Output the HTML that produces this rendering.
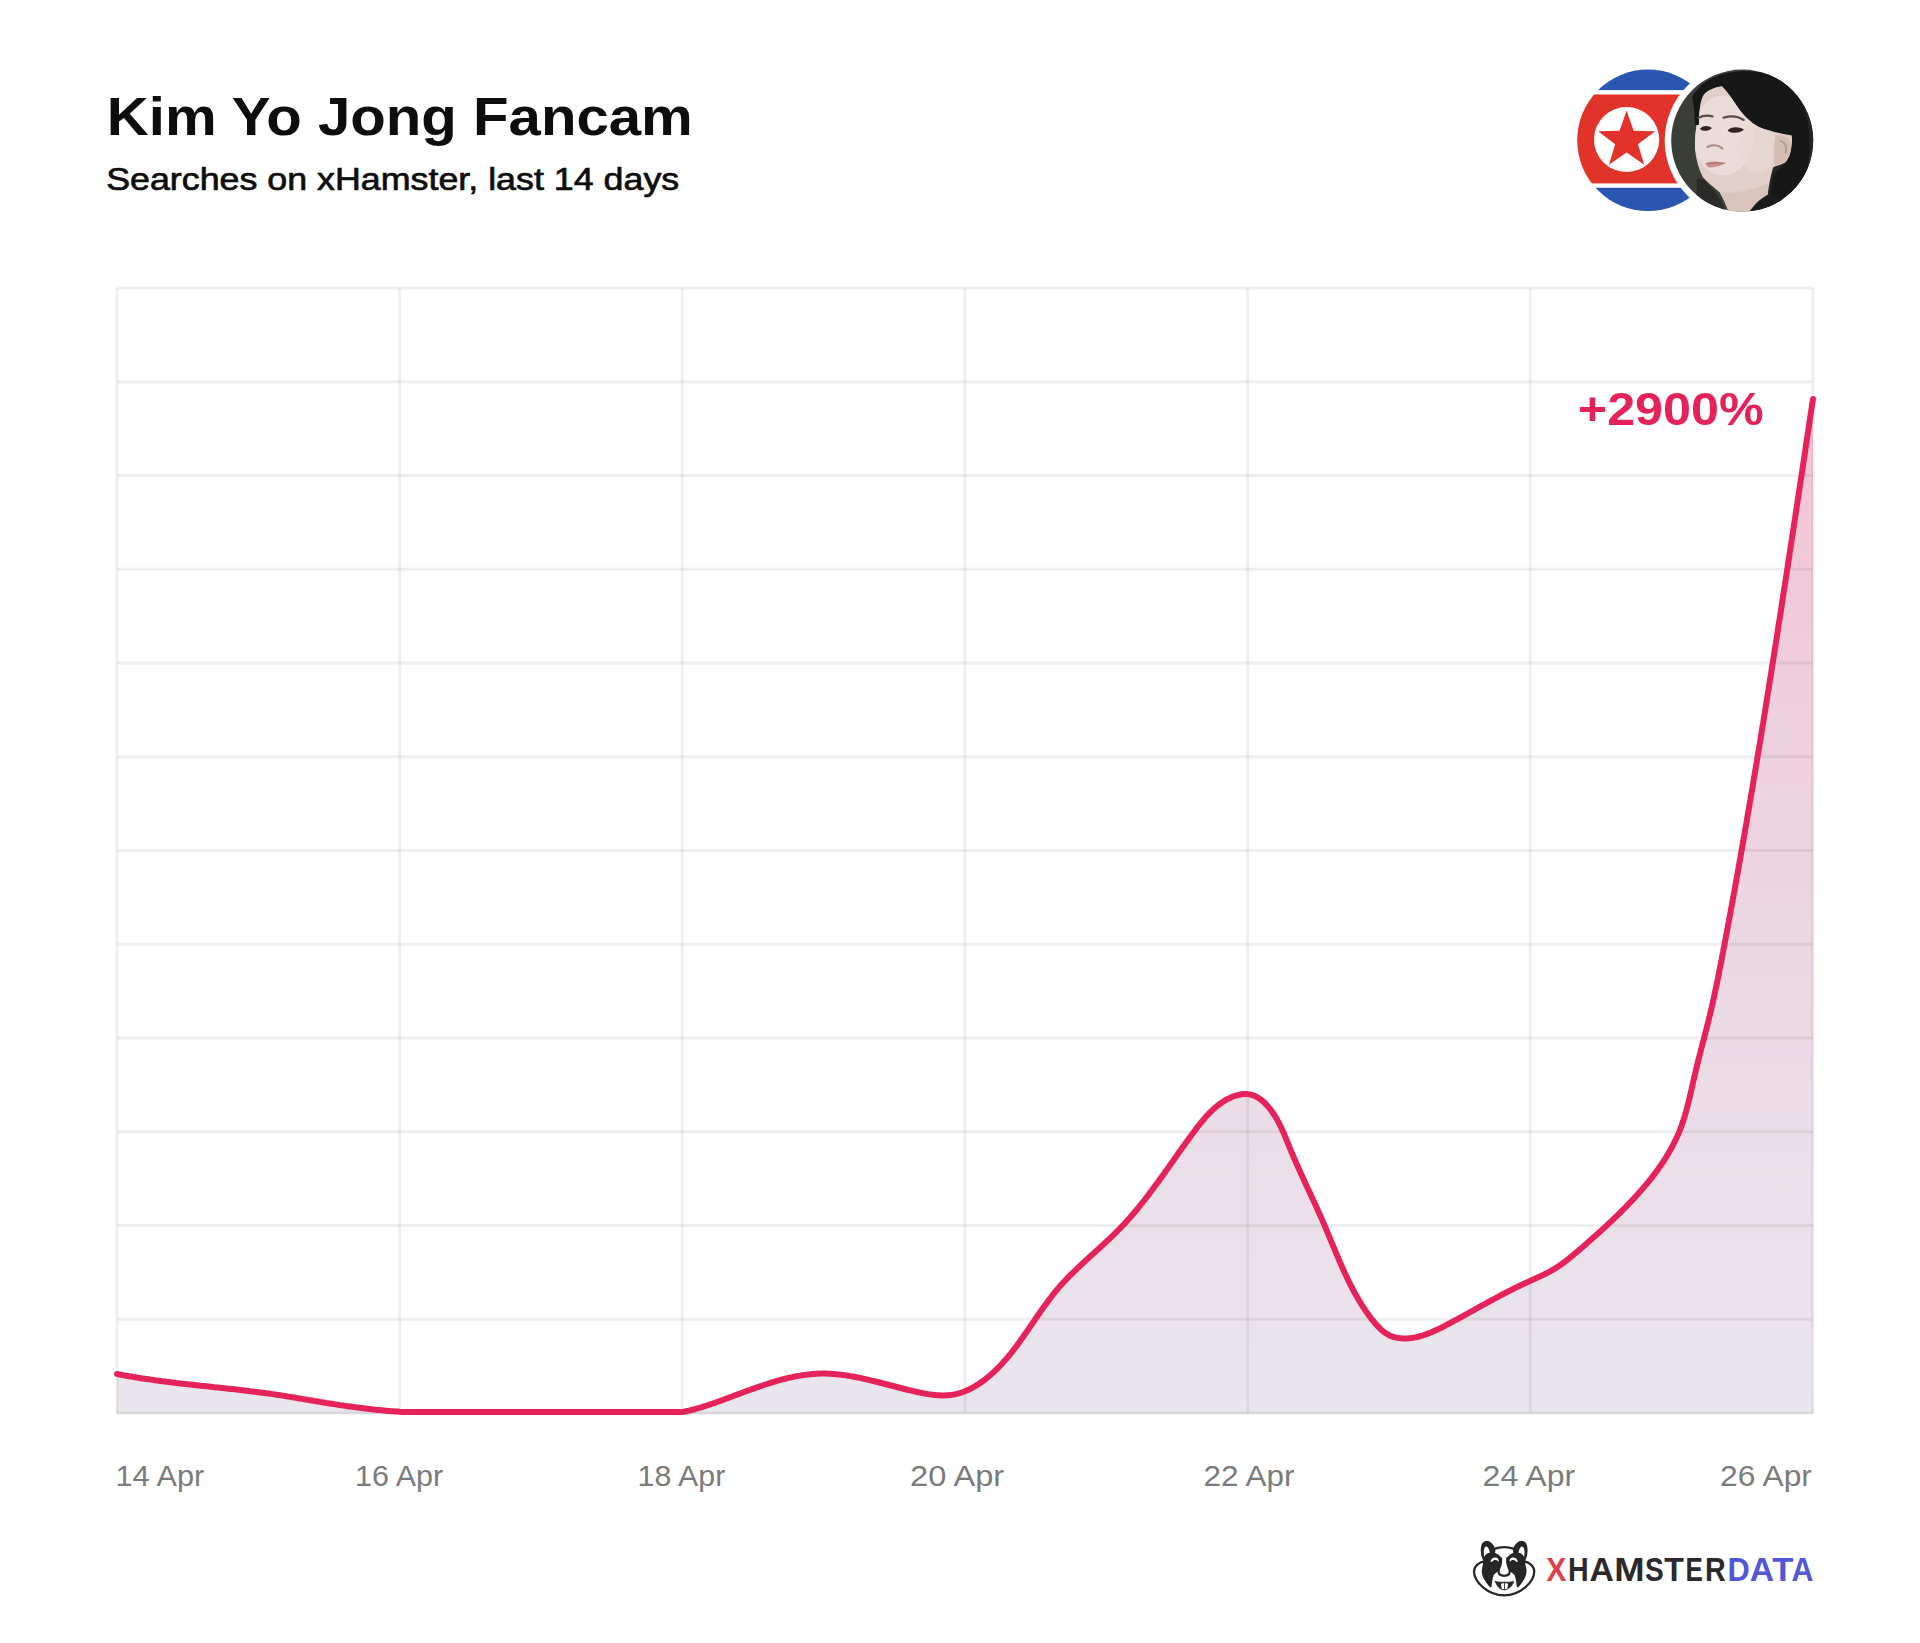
<!DOCTYPE html>
<html><head><meta charset="utf-8"><style>
html,body{margin:0;padding:0;background:#fff;}
body{width:1920px;height:1643px;overflow:hidden;position:relative;}
svg{position:absolute;left:0;top:0;}
text{font-family:"Liberation Sans",sans-serif;}
</style></head><body>
<svg width="1920" height="1643" viewBox="0 0 1920 1643">
<defs>
<linearGradient id="fillg" x1="0" y1="398" x2="0" y2="1413" gradientUnits="userSpaceOnUse">
<stop offset="0" stop-color="#f2c4d5"/>
<stop offset="0.5" stop-color="#ecd6e2"/>
<stop offset="1" stop-color="#eae6ee"/>
</linearGradient>
<clipPath id="pc"><circle cx="1742.2" cy="140.6" r="71"/></clipPath>
<clipPath id="fc"><circle cx="1648" cy="140.3" r="70.8"/></clipPath>
</defs>
<rect width="1920" height="1643" fill="#fff"/>
<text x="106.75" y="135.1" font-size="54" font-weight="700" fill="#0d0d0d" textLength="586.1" lengthAdjust="spacingAndGlyphs">Kim Yo Jong Fancam</text>
<text x="106.18" y="189.6" font-size="32" font-weight="400" fill="#0d0d0d" stroke="#0d0d0d" stroke-width="0.7" textLength="573.0" lengthAdjust="spacingAndGlyphs">Searches on xHamster, last 14 days</text>
<path d="M117.0,1374.0 L119.0,1374.4 L120.9,1374.8 L122.9,1375.1 L124.9,1375.5 L126.9,1375.8 L128.9,1376.2 L130.8,1376.5 L132.8,1376.9 L134.8,1377.2 L136.8,1377.5 L138.8,1377.8 L140.7,1378.2 L142.7,1378.5 L144.7,1378.8 L146.7,1379.1 L148.7,1379.3 L150.7,1379.6 L152.7,1379.9 L154.7,1380.2 L156.7,1380.5 L158.6,1380.7 L160.6,1381.0 L162.6,1381.3 L164.6,1381.5 L166.6,1381.8 L168.6,1382.0 L170.6,1382.3 L172.6,1382.5 L174.6,1382.7 L176.6,1383.0 L178.6,1383.2 L180.6,1383.4 L182.6,1383.7 L184.6,1383.9 L186.6,1384.1 L188.6,1384.4 L190.6,1384.6 L192.6,1384.8 L194.5,1385.0 L196.5,1385.2 L198.5,1385.4 L200.5,1385.7 L202.5,1385.9 L204.5,1386.1 L206.5,1386.3 L208.5,1386.5 L210.5,1386.7 L212.5,1386.9 L214.5,1387.2 L216.5,1387.4 L218.5,1387.6 L220.5,1387.8 L222.5,1388.0 L224.5,1388.2 L226.5,1388.4 L228.5,1388.7 L230.5,1388.9 L232.5,1389.1 L234.5,1389.3 L236.5,1389.5 L238.5,1389.8 L240.5,1390.0 L242.5,1390.2 L244.5,1390.5 L246.5,1390.7 L248.5,1390.9 L250.5,1391.2 L252.5,1391.4 L254.4,1391.7 L256.4,1391.9 L258.4,1392.2 L260.4,1392.5 L262.4,1392.7 L264.4,1393.0 L266.4,1393.3 L268.4,1393.5 L270.4,1393.8 L272.4,1394.1 L274.4,1394.4 L276.3,1394.7 L278.3,1395.0 L280.3,1395.3 L282.3,1395.6 L284.3,1395.9 L286.3,1396.2 L288.2,1396.6 L290.2,1396.9 L292.2,1397.2 L294.2,1397.5 L296.2,1397.9 L298.2,1398.2 L300.1,1398.5 L302.1,1398.9 L304.1,1399.2 L306.1,1399.5 L308.1,1399.9 L310.0,1400.2 L312.0,1400.5 L314.0,1400.9 L316.0,1401.2 L318.0,1401.5 L320.0,1401.9 L321.9,1402.2 L323.9,1402.5 L325.9,1402.9 L327.9,1403.2 L329.9,1403.5 L331.8,1403.8 L333.8,1404.1 L335.8,1404.4 L337.8,1404.7 L339.8,1405.1 L341.8,1405.4 L343.8,1405.6 L345.8,1405.9 L347.7,1406.2 L349.7,1406.5 L351.7,1406.8 L353.7,1407.1 L355.7,1407.3 L357.7,1407.6 L359.7,1407.8 L361.7,1408.1 L363.7,1408.3 L365.7,1408.6 L367.7,1408.8 L369.7,1409.0 L371.7,1409.3 L373.7,1409.5 L375.6,1409.7 L377.6,1409.9 L379.6,1410.1 L381.6,1410.3 L383.6,1410.5 L385.6,1410.7 L387.6,1410.9 L389.6,1411.0 L391.7,1411.2 L393.7,1411.3 L395.7,1411.5 L397.7,1411.6 L399.7,1411.8 L401.7,1411.9 L681.9,1412.1 L683.9,1411.7 L685.8,1411.3 L687.8,1410.9 L689.7,1410.5 L691.7,1410.0 L693.6,1409.5 L695.5,1409.0 L697.5,1408.4 L699.4,1407.9 L701.3,1407.3 L703.2,1406.7 L705.1,1406.1 L707.0,1405.5 L708.9,1404.8 L710.8,1404.2 L712.7,1403.5 L714.6,1402.9 L716.5,1402.2 L718.4,1401.5 L720.2,1400.9 L722.1,1400.2 L724.0,1399.5 L725.9,1398.8 L727.8,1398.1 L729.6,1397.4 L731.5,1396.7 L733.4,1396.0 L735.3,1395.3 L737.1,1394.6 L739.0,1393.9 L740.9,1393.2 L742.8,1392.5 L744.6,1391.8 L746.5,1391.1 L748.4,1390.4 L750.3,1389.8 L752.2,1389.1 L754.0,1388.4 L755.9,1387.7 L757.8,1387.1 L759.7,1386.4 L761.6,1385.8 L763.5,1385.1 L765.4,1384.5 L767.3,1383.9 L769.2,1383.3 L771.1,1382.7 L773.0,1382.1 L774.9,1381.5 L776.9,1381.0 L778.8,1380.4 L780.7,1379.9 L782.7,1379.4 L784.6,1378.9 L786.5,1378.4 L788.5,1377.9 L790.4,1377.5 L792.4,1377.1 L794.3,1376.6 L796.3,1376.3 L798.3,1375.9 L800.2,1375.6 L802.2,1375.2 L804.2,1374.9 L806.2,1374.7 L808.2,1374.4 L810.2,1374.2 L812.2,1374.0 L814.1,1373.9 L816.1,1373.8 L818.1,1373.7 L820.1,1373.6 L822.1,1373.6 L824.1,1373.6 L826.1,1373.6 L828.1,1373.7 L830.1,1373.8 L832.1,1373.9 L834.1,1374.0 L836.1,1374.2 L838.1,1374.4 L840.1,1374.6 L842.1,1374.9 L844.1,1375.1 L846.1,1375.4 L848.0,1375.7 L850.0,1376.1 L852.0,1376.4 L854.0,1376.8 L855.9,1377.1 L857.9,1377.5 L859.8,1377.9 L861.8,1378.3 L863.8,1378.8 L865.7,1379.2 L867.7,1379.6 L869.6,1380.1 L871.6,1380.6 L873.5,1381.0 L875.4,1381.5 L877.4,1382.0 L879.3,1382.5 L881.3,1383.0 L883.2,1383.5 L885.1,1384.0 L887.1,1384.5 L889.0,1385.0 L890.9,1385.5 L892.9,1386.0 L894.8,1386.5 L896.8,1387.0 L898.7,1387.5 L900.6,1388.0 L902.6,1388.5 L904.5,1389.0 L906.5,1389.5 L908.4,1390.0 L910.3,1390.4 L912.3,1390.9 L914.2,1391.3 L916.2,1391.8 L918.1,1392.2 L920.1,1392.6 L922.1,1393.0 L924.0,1393.4 L926.0,1393.7 L928.0,1394.1 L930.0,1394.4 L931.9,1394.6 L933.9,1394.9 L935.9,1395.1 L937.9,1395.2 L939.9,1395.3 L941.9,1395.4 L943.9,1395.4 L945.9,1395.3 L947.9,1395.2 L949.9,1395.0 L951.9,1394.8 L953.9,1394.5 L955.8,1394.1 L957.8,1393.6 L959.7,1393.1 L961.6,1392.5 L963.5,1391.8 L965.4,1391.1 L967.2,1390.3 L969.0,1389.5 L970.8,1388.6 L972.6,1387.6 L974.3,1386.7 L976.0,1385.6 L977.7,1384.6 L979.4,1383.5 L981.1,1382.3 L982.7,1381.2 L984.3,1380.0 L985.9,1378.8 L987.4,1377.5 L989.0,1376.2 L990.5,1374.9 L992.0,1373.6 L993.5,1372.3 L994.9,1370.9 L996.4,1369.5 L997.8,1368.1 L999.2,1366.7 L1000.6,1365.2 L1002.0,1363.8 L1003.3,1362.3 L1004.6,1360.8 L1006.0,1359.3 L1007.3,1357.8 L1008.5,1356.2 L1009.8,1354.7 L1011.1,1353.1 L1012.3,1351.6 L1013.5,1350.0 L1014.8,1348.4 L1016.0,1346.8 L1017.2,1345.2 L1018.3,1343.6 L1019.5,1342.0 L1020.7,1340.3 L1021.8,1338.7 L1023.0,1337.1 L1024.1,1335.4 L1025.3,1333.8 L1026.4,1332.1 L1027.6,1330.5 L1028.7,1328.8 L1029.8,1327.2 L1030.9,1325.5 L1032.1,1323.9 L1033.2,1322.2 L1034.3,1320.6 L1035.4,1318.9 L1036.6,1317.3 L1037.7,1315.6 L1038.8,1314.0 L1040.0,1312.3 L1041.1,1310.7 L1042.3,1309.1 L1043.4,1307.4 L1044.6,1305.8 L1045.8,1304.2 L1047.0,1302.6 L1048.1,1301.0 L1049.3,1299.4 L1050.6,1297.8 L1051.8,1296.2 L1053.0,1294.6 L1054.3,1293.0 L1055.5,1291.5 L1056.8,1290.0 L1058.1,1288.4 L1059.4,1286.9 L1060.7,1285.4 L1062.1,1283.9 L1063.4,1282.4 L1064.8,1281.0 L1066.2,1279.5 L1067.5,1278.1 L1068.9,1276.6 L1070.3,1275.2 L1071.8,1273.8 L1073.2,1272.4 L1074.6,1271.0 L1076.1,1269.6 L1077.5,1268.2 L1078.9,1266.8 L1080.4,1265.5 L1081.9,1264.1 L1083.3,1262.7 L1084.8,1261.4 L1086.3,1260.0 L1087.8,1258.7 L1089.2,1257.3 L1090.7,1256.0 L1092.2,1254.6 L1093.7,1253.3 L1095.2,1251.9 L1096.6,1250.6 L1098.1,1249.3 L1099.6,1247.9 L1101.1,1246.6 L1102.5,1245.2 L1104.0,1243.9 L1105.5,1242.5 L1106.9,1241.1 L1108.4,1239.8 L1109.9,1238.4 L1111.3,1237.0 L1112.7,1235.6 L1114.2,1234.2 L1115.6,1232.8 L1117.0,1231.4 L1118.4,1230.0 L1119.8,1228.6 L1121.2,1227.1 L1122.6,1225.7 L1124.0,1224.2 L1125.3,1222.7 L1126.7,1221.3 L1128.0,1219.8 L1129.4,1218.3 L1130.7,1216.8 L1132.0,1215.3 L1133.3,1213.7 L1134.6,1212.2 L1135.9,1210.7 L1137.1,1209.1 L1138.4,1207.6 L1139.7,1206.0 L1140.9,1204.5 L1142.2,1202.9 L1143.4,1201.4 L1144.7,1199.8 L1145.9,1198.2 L1147.1,1196.6 L1148.3,1195.0 L1149.5,1193.4 L1150.7,1191.8 L1151.9,1190.2 L1153.1,1188.6 L1154.3,1187.0 L1155.5,1185.4 L1156.7,1183.8 L1157.9,1182.2 L1159.1,1180.6 L1160.2,1178.9 L1161.4,1177.3 L1162.6,1175.7 L1163.7,1174.1 L1164.9,1172.4 L1166.0,1170.8 L1167.2,1169.2 L1168.4,1167.5 L1169.5,1165.9 L1170.7,1164.3 L1171.8,1162.6 L1173.0,1161.0 L1174.1,1159.4 L1175.3,1157.7 L1176.4,1156.1 L1177.6,1154.5 L1178.7,1152.8 L1179.9,1151.2 L1181.1,1149.6 L1182.2,1147.9 L1183.4,1146.3 L1184.5,1144.7 L1185.7,1143.0 L1186.9,1141.4 L1188.1,1139.8 L1189.2,1138.2 L1190.4,1136.6 L1191.6,1135.0 L1192.8,1133.3 L1194.0,1131.7 L1195.2,1130.1 L1196.4,1128.5 L1197.6,1126.9 L1198.8,1125.4 L1200.1,1123.8 L1201.3,1122.2 L1202.6,1120.7 L1203.9,1119.2 L1205.2,1117.6 L1206.5,1116.1 L1207.9,1114.7 L1209.2,1113.2 L1210.7,1111.8 L1212.1,1110.4 L1213.6,1109.1 L1215.1,1107.7 L1216.6,1106.4 L1218.2,1105.2 L1219.8,1104.0 L1221.4,1102.8 L1223.1,1101.7 L1224.8,1100.7 L1226.5,1099.7 L1228.3,1098.7 L1230.1,1097.9 L1231.9,1097.1 L1233.7,1096.3 L1235.6,1095.7 L1237.6,1095.1 L1239.5,1094.7 L1241.5,1094.3 L1243.5,1094.1 L1245.5,1094.0 L1247.5,1094.1 L1249.5,1094.4 L1251.4,1094.8 L1253.3,1095.4 L1255.2,1096.1 L1256.9,1097.1 L1258.7,1098.1 L1260.3,1099.2 L1261.9,1100.5 L1263.4,1101.8 L1264.9,1103.1 L1266.3,1104.6 L1267.6,1106.0 L1268.9,1107.6 L1270.2,1109.1 L1271.4,1110.7 L1272.5,1112.3 L1273.6,1114.0 L1274.7,1115.7 L1275.8,1117.4 L1276.8,1119.1 L1277.8,1120.9 L1278.7,1122.6 L1279.6,1124.4 L1280.5,1126.2 L1281.4,1128.0 L1282.2,1129.8 L1283.1,1131.6 L1283.9,1133.5 L1284.6,1135.3 L1285.4,1137.2 L1286.2,1139.0 L1286.9,1140.9 L1287.7,1142.7 L1288.5,1144.6 L1289.2,1146.4 L1290.0,1148.3 L1290.7,1150.1 L1291.5,1152.0 L1292.3,1153.8 L1293.0,1155.7 L1293.8,1157.5 L1294.6,1159.3 L1295.4,1161.2 L1296.2,1163.0 L1297.0,1164.8 L1297.8,1166.7 L1298.7,1168.5 L1299.5,1170.3 L1300.3,1172.1 L1301.1,1174.0 L1302.0,1175.8 L1302.8,1177.6 L1303.6,1179.4 L1304.5,1181.2 L1305.3,1183.1 L1306.1,1184.9 L1307.0,1186.7 L1307.8,1188.5 L1308.7,1190.3 L1309.5,1192.1 L1310.4,1193.9 L1311.2,1195.8 L1312.0,1197.6 L1312.9,1199.4 L1313.7,1201.2 L1314.6,1203.0 L1315.4,1204.8 L1316.2,1206.7 L1317.1,1208.5 L1317.9,1210.3 L1318.7,1212.1 L1319.5,1214.0 L1320.3,1215.8 L1321.2,1217.6 L1322.0,1219.4 L1322.8,1221.3 L1323.6,1223.1 L1324.4,1224.9 L1325.1,1226.8 L1325.9,1228.6 L1326.7,1230.5 L1327.5,1232.3 L1328.2,1234.2 L1329.0,1236.0 L1329.8,1237.9 L1330.5,1239.7 L1331.3,1241.6 L1332.1,1243.4 L1332.8,1245.3 L1333.6,1247.1 L1334.4,1248.9 L1335.1,1250.8 L1335.9,1252.6 L1336.7,1254.5 L1337.5,1256.3 L1338.3,1258.2 L1339.0,1260.0 L1339.8,1261.8 L1340.6,1263.7 L1341.4,1265.5 L1342.2,1267.3 L1343.1,1269.2 L1343.9,1271.0 L1344.7,1272.8 L1345.6,1274.6 L1346.4,1276.4 L1347.3,1278.3 L1348.1,1280.1 L1349.0,1281.9 L1349.9,1283.6 L1350.8,1285.4 L1351.7,1287.2 L1352.6,1289.0 L1353.6,1290.8 L1354.5,1292.5 L1355.5,1294.3 L1356.5,1296.0 L1357.5,1297.7 L1358.5,1299.5 L1359.5,1301.2 L1360.6,1302.9 L1361.6,1304.6 L1362.7,1306.3 L1363.8,1308.0 L1364.9,1309.6 L1366.0,1311.3 L1367.2,1312.9 L1368.3,1314.5 L1369.5,1316.2 L1370.7,1317.8 L1371.9,1319.3 L1373.2,1320.9 L1374.4,1322.5 L1375.7,1324.0 L1377.1,1325.5 L1378.4,1326.9 L1379.9,1328.4 L1381.3,1329.7 L1382.8,1331.0 L1384.4,1332.3 L1386.1,1333.4 L1387.8,1334.4 L1389.5,1335.4 L1391.4,1336.2 L1393.3,1336.8 L1395.2,1337.4 L1397.1,1337.8 L1399.1,1338.1 L1401.1,1338.3 L1403.1,1338.4 L1405.1,1338.4 L1407.1,1338.4 L1409.1,1338.2 L1411.1,1338.0 L1413.1,1337.7 L1415.0,1337.4 L1417.0,1337.0 L1418.9,1336.5 L1420.9,1336.0 L1422.8,1335.4 L1424.7,1334.8 L1426.6,1334.1 L1428.4,1333.4 L1430.3,1332.7 L1432.2,1331.9 L1434.0,1331.1 L1435.8,1330.3 L1437.6,1329.4 L1439.4,1328.6 L1441.2,1327.7 L1443.0,1326.8 L1444.8,1325.8 L1446.6,1324.9 L1448.3,1324.0 L1450.1,1323.1 L1451.9,1322.1 L1453.6,1321.2 L1455.4,1320.2 L1457.1,1319.3 L1458.9,1318.3 L1460.7,1317.3 L1462.4,1316.4 L1464.2,1315.4 L1465.9,1314.5 L1467.7,1313.5 L1469.4,1312.5 L1471.2,1311.6 L1472.9,1310.6 L1474.7,1309.6 L1476.4,1308.7 L1478.2,1307.7 L1479.9,1306.7 L1481.7,1305.7 L1483.4,1304.8 L1485.2,1303.8 L1486.9,1302.8 L1488.7,1301.9 L1490.5,1300.9 L1492.2,1300.0 L1494.0,1299.0 L1495.7,1298.1 L1497.5,1297.1 L1499.3,1296.2 L1501.0,1295.2 L1502.8,1294.3 L1504.6,1293.4 L1506.3,1292.5 L1508.1,1291.5 L1509.9,1290.6 L1511.7,1289.7 L1513.5,1288.8 L1515.3,1287.9 L1517.1,1287.0 L1518.9,1286.2 L1520.7,1285.3 L1522.5,1284.4 L1524.3,1283.6 L1526.1,1282.7 L1527.9,1281.9 L1529.7,1281.1 L1531.5,1280.2 L1533.4,1279.4 L1535.2,1278.6 L1537.0,1277.8 L1538.8,1276.9 L1540.7,1276.1 L1542.5,1275.3 L1544.3,1274.4 L1546.1,1273.5 L1547.9,1272.6 L1549.6,1271.7 L1551.4,1270.7 L1553.1,1269.7 L1554.8,1268.6 L1556.5,1267.6 L1558.2,1266.5 L1559.8,1265.3 L1561.5,1264.2 L1563.1,1263.0 L1564.7,1261.8 L1566.3,1260.6 L1567.9,1259.4 L1569.4,1258.1 L1571.0,1256.9 L1572.5,1255.6 L1574.1,1254.3 L1575.6,1253.0 L1577.1,1251.7 L1578.6,1250.4 L1580.2,1249.1 L1581.7,1247.8 L1583.2,1246.5 L1584.7,1245.2 L1586.2,1243.9 L1587.7,1242.6 L1589.2,1241.3 L1590.7,1239.9 L1592.2,1238.6 L1593.7,1237.3 L1595.2,1236.0 L1596.7,1234.6 L1598.2,1233.3 L1599.7,1232.0 L1601.2,1230.6 L1602.6,1229.3 L1604.1,1227.9 L1605.6,1226.5 L1607.1,1225.2 L1608.5,1223.8 L1610.0,1222.4 L1611.4,1221.1 L1612.9,1219.7 L1614.3,1218.3 L1615.8,1216.9 L1617.2,1215.5 L1618.6,1214.1 L1620.1,1212.7 L1621.5,1211.3 L1622.9,1209.9 L1624.3,1208.5 L1625.7,1207.1 L1627.1,1205.6 L1628.5,1204.2 L1629.9,1202.7 L1631.3,1201.3 L1632.6,1199.8 L1634.0,1198.4 L1635.4,1196.9 L1636.7,1195.4 L1638.0,1193.9 L1639.4,1192.4 L1640.7,1190.9 L1642.0,1189.4 L1643.3,1187.9 L1644.6,1186.4 L1645.9,1184.9 L1647.2,1183.3 L1648.5,1181.8 L1649.7,1180.2 L1651.0,1178.7 L1652.2,1177.1 L1653.4,1175.5 L1654.6,1173.9 L1655.8,1172.3 L1657.0,1170.7 L1658.2,1169.1 L1659.3,1167.4 L1660.5,1165.8 L1661.6,1164.1 L1662.7,1162.5 L1663.8,1160.8 L1664.9,1159.1 L1666.0,1157.4 L1667.0,1155.7 L1668.0,1154.0 L1669.0,1152.3 L1670.0,1150.5 L1671.0,1148.8 L1672.0,1147.0 L1672.9,1145.3 L1673.8,1143.5 L1674.7,1141.7 L1675.6,1139.9 L1676.4,1138.1 L1677.3,1136.3 L1678.1,1134.4 L1678.9,1132.6 L1679.6,1130.7 L1680.4,1128.9 L1681.1,1127.0 L1681.8,1125.1 L1682.4,1123.2 L1683.1,1121.3 L1683.7,1119.4 L1684.3,1117.5 L1684.9,1115.6 L1685.4,1113.7 L1686.0,1111.8 L1686.5,1109.8 L1687.0,1107.9 L1687.6,1106.0 L1688.0,1104.0 L1688.5,1102.1 L1689.0,1100.2 L1689.5,1098.2 L1689.9,1096.3 L1690.4,1094.3 L1690.8,1092.4 L1691.3,1090.4 L1691.7,1088.5 L1692.2,1086.5 L1692.6,1084.6 L1693.0,1082.6 L1693.5,1080.7 L1693.9,1078.7 L1694.4,1076.8 L1694.8,1074.8 L1695.3,1072.9 L1695.7,1070.9 L1696.2,1069.0 L1696.7,1067.0 L1697.2,1065.1 L1697.6,1063.1 L1698.1,1061.2 L1698.6,1059.2 L1699.1,1057.3 L1699.6,1055.4 L1700.1,1053.4 L1700.6,1051.5 L1701.1,1049.6 L1701.6,1047.6 L1702.1,1045.7 L1702.6,1043.7 L1703.1,1041.8 L1703.6,1039.9 L1704.1,1037.9 L1704.6,1036.0 L1705.1,1034.1 L1705.6,1032.1 L1706.1,1030.2 L1706.6,1028.3 L1707.1,1026.3 L1707.6,1024.4 L1708.1,1022.4 L1708.6,1020.5 L1709.0,1018.5 L1709.5,1016.6 L1710.0,1014.7 L1710.4,1012.7 L1710.9,1010.8 L1711.3,1008.8 L1711.8,1006.9 L1712.2,1004.9 L1712.7,1003.0 L1713.1,1001.0 L1713.5,999.0 L1714.0,997.1 L1714.4,995.1 L1714.8,993.2 L1715.2,991.2 L1715.6,989.3 L1716.1,987.3 L1716.5,985.3 L1716.9,983.4 L1717.3,981.4 L1717.7,979.5 L1718.1,977.5 L1718.5,975.5 L1718.9,973.6 L1719.2,971.6 L1719.6,969.7 L1720.0,967.7 L1720.4,965.7 L1720.8,963.8 L1721.2,961.8 L1721.6,959.8 L1721.9,957.9 L1722.3,955.9 L1722.7,953.9 L1723.1,952.0 L1723.4,950.0 L1723.8,948.0 L1724.2,946.1 L1724.6,944.1 L1724.9,942.1 L1725.3,940.2 L1725.7,938.2 L1726.0,936.2 L1726.4,934.3 L1726.8,932.3 L1727.1,930.3 L1727.5,928.4 L1727.9,926.4 L1728.2,924.4 L1728.6,922.5 L1729.0,920.5 L1729.3,918.5 L1729.7,916.6 L1730.1,914.6 L1730.4,912.6 L1730.8,910.7 L1731.1,908.7 L1731.5,906.7 L1731.9,904.8 L1732.2,902.8 L1732.6,900.8 L1732.9,898.9 L1733.3,896.9 L1733.7,894.9 L1734.0,893.0 L1734.4,891.0 L1734.7,889.0 L1735.1,887.0 L1735.4,885.1 L1735.8,883.1 L1736.2,881.1 L1736.5,879.2 L1736.9,877.2 L1737.2,875.2 L1737.6,873.3 L1737.9,871.3 L1738.3,869.3 L1738.6,867.4 L1739.0,865.4 L1739.3,863.4 L1739.7,861.4 L1740.0,859.5 L1740.4,857.5 L1740.7,855.5 L1741.1,853.6 L1741.4,851.6 L1741.8,849.6 L1742.1,847.6 L1742.4,845.7 L1742.8,843.7 L1743.1,841.7 L1743.5,839.8 L1743.8,837.8 L1744.2,835.8 L1744.5,833.8 L1744.9,831.9 L1745.2,829.9 L1745.5,827.9 L1745.9,826.0 L1746.2,824.0 L1746.6,822.0 L1746.9,820.0 L1747.2,818.1 L1747.6,816.1 L1747.9,814.1 L1748.2,812.2 L1748.6,810.2 L1748.9,808.2 L1749.3,806.2 L1749.6,804.3 L1749.9,802.3 L1750.3,800.3 L1750.6,798.4 L1750.9,796.4 L1751.3,794.4 L1751.6,792.4 L1751.9,790.5 L1752.3,788.5 L1752.6,786.5 L1752.9,784.5 L1753.3,782.6 L1753.6,780.6 L1753.9,778.6 L1754.3,776.6 L1754.6,774.7 L1754.9,772.7 L1755.3,770.7 L1755.6,768.8 L1755.9,766.8 L1756.2,764.8 L1756.6,762.8 L1756.9,760.9 L1757.2,758.9 L1757.5,756.9 L1757.9,754.9 L1758.2,753.0 L1758.5,751.0 L1758.9,749.0 L1759.2,747.0 L1759.5,745.1 L1759.8,743.1 L1760.2,741.1 L1760.5,739.1 L1760.8,737.2 L1761.1,735.2 L1761.4,733.2 L1761.8,731.2 L1762.1,729.3 L1762.4,727.3 L1762.7,725.3 L1763.1,723.3 L1763.4,721.4 L1763.7,719.4 L1764.0,717.4 L1764.3,715.4 L1764.7,713.5 L1765.0,711.5 L1765.3,709.5 L1765.6,707.5 L1765.9,705.6 L1766.2,703.6 L1766.6,701.6 L1766.9,699.6 L1767.2,697.7 L1767.5,695.7 L1767.8,693.7 L1768.1,691.7 L1768.5,689.8 L1768.8,687.8 L1769.1,685.8 L1769.4,683.8 L1769.7,681.9 L1770.0,679.9 L1770.4,677.9 L1770.7,675.9 L1771.0,673.9 L1771.3,672.0 L1771.6,670.0 L1771.9,668.0 L1772.2,666.0 L1772.5,664.1 L1772.9,662.1 L1773.2,660.1 L1773.5,658.1 L1773.8,656.2 L1774.1,654.2 L1774.4,652.2 L1774.7,650.2 L1775.0,648.3 L1775.3,646.3 L1775.7,644.3 L1776.0,642.3 L1776.3,640.3 L1776.6,638.4 L1776.9,636.4 L1777.2,634.4 L1777.5,632.4 L1777.8,630.5 L1778.1,628.5 L1778.4,626.5 L1778.7,624.5 L1779.0,622.5 L1779.4,620.6 L1779.7,618.6 L1780.0,616.6 L1780.3,614.6 L1780.6,612.7 L1780.9,610.7 L1781.2,608.7 L1781.5,606.7 L1781.8,604.8 L1782.1,602.8 L1782.4,600.8 L1782.7,598.8 L1783.0,596.8 L1783.3,594.9 L1783.6,592.9 L1783.9,590.9 L1784.2,588.9 L1784.5,587.0 L1784.9,585.0 L1785.2,583.0 L1785.5,581.0 L1785.8,579.0 L1786.1,577.1 L1786.4,575.1 L1786.7,573.1 L1787.0,571.1 L1787.3,569.2 L1787.6,567.2 L1787.9,565.2 L1788.2,563.2 L1788.5,561.2 L1788.8,559.3 L1789.1,557.3 L1789.4,555.3 L1789.7,553.3 L1790.0,551.4 L1790.3,549.4 L1790.6,547.4 L1790.9,545.4 L1791.2,543.4 L1791.5,541.5 L1791.8,539.5 L1792.1,537.5 L1792.4,535.5 L1792.7,533.5 L1793.0,531.6 L1793.3,529.6 L1793.6,527.6 L1793.9,525.6 L1794.2,523.7 L1794.5,521.7 L1794.8,519.7 L1795.1,517.7 L1795.4,515.7 L1795.7,513.8 L1796.0,511.8 L1796.3,509.8 L1796.6,507.8 L1796.9,505.8 L1797.2,503.9 L1797.5,501.9 L1797.8,499.9 L1798.1,497.9 L1798.4,496.0 L1798.7,494.0 L1799.0,492.0 L1799.3,490.0 L1799.6,488.0 L1799.9,486.1 L1800.2,484.1 L1800.5,482.1 L1800.8,480.1 L1801.1,478.1 L1801.4,476.2 L1801.7,474.2 L1802.0,472.2 L1802.3,470.2 L1802.6,468.3 L1802.9,466.3 L1803.2,464.3 L1803.5,462.3 L1803.8,460.3 L1804.1,458.4 L1804.4,456.4 L1804.7,454.4 L1805.0,452.4 L1805.3,450.4 L1805.5,448.5 L1805.8,446.5 L1806.1,444.5 L1806.4,442.5 L1806.7,440.6 L1807.0,438.6 L1807.3,436.6 L1807.6,434.6 L1807.9,432.6 L1808.2,430.7 L1808.5,428.7 L1808.8,426.7 L1809.1,424.7 L1809.4,422.7 L1809.7,420.8 L1810.0,418.8 L1810.3,416.8 L1810.6,414.8 L1810.9,412.9 L1811.2,410.9 L1811.5,408.9 L1811.8,406.9 L1812.1,404.9 L1812.4,403.0 L1812.7,401.0 L1813.0,399.0 L1813,1414 L116.5,1414 Z" fill="url(#fillg)"/>
<g stroke="#000" stroke-opacity="0.062" stroke-width="3" fill="none"><line x1="117" y1="288.0" x2="1813" y2="288.0"/><line x1="117" y1="381.8" x2="1813" y2="381.8"/><line x1="117" y1="475.5" x2="1813" y2="475.5"/><line x1="117" y1="569.2" x2="1813" y2="569.2"/><line x1="117" y1="663.0" x2="1813" y2="663.0"/><line x1="117" y1="756.8" x2="1813" y2="756.8"/><line x1="117" y1="850.5" x2="1813" y2="850.5"/><line x1="117" y1="944.2" x2="1813" y2="944.2"/><line x1="117" y1="1038.0" x2="1813" y2="1038.0"/><line x1="117" y1="1131.8" x2="1813" y2="1131.8"/><line x1="117" y1="1225.5" x2="1813" y2="1225.5"/><line x1="117" y1="1319.2" x2="1813" y2="1319.2"/><line x1="117" y1="1413.0" x2="1813" y2="1413.0"/><line x1="117.0" y1="288" x2="117.0" y2="1413"/><line x1="399.7" y1="288" x2="399.7" y2="1413"/><line x1="682.3" y1="288" x2="682.3" y2="1413"/><line x1="965.0" y1="288" x2="965.0" y2="1413"/><line x1="1247.7" y1="288" x2="1247.7" y2="1413"/><line x1="1530.3" y1="288" x2="1530.3" y2="1413"/><line x1="1813.0" y1="288" x2="1813.0" y2="1413"/></g>
<path d="M117.0,1374.0 L119.0,1374.4 L120.9,1374.8 L122.9,1375.1 L124.9,1375.5 L126.9,1375.8 L128.9,1376.2 L130.8,1376.5 L132.8,1376.9 L134.8,1377.2 L136.8,1377.5 L138.8,1377.8 L140.7,1378.2 L142.7,1378.5 L144.7,1378.8 L146.7,1379.1 L148.7,1379.3 L150.7,1379.6 L152.7,1379.9 L154.7,1380.2 L156.7,1380.5 L158.6,1380.7 L160.6,1381.0 L162.6,1381.3 L164.6,1381.5 L166.6,1381.8 L168.6,1382.0 L170.6,1382.3 L172.6,1382.5 L174.6,1382.7 L176.6,1383.0 L178.6,1383.2 L180.6,1383.4 L182.6,1383.7 L184.6,1383.9 L186.6,1384.1 L188.6,1384.4 L190.6,1384.6 L192.6,1384.8 L194.5,1385.0 L196.5,1385.2 L198.5,1385.4 L200.5,1385.7 L202.5,1385.9 L204.5,1386.1 L206.5,1386.3 L208.5,1386.5 L210.5,1386.7 L212.5,1386.9 L214.5,1387.2 L216.5,1387.4 L218.5,1387.6 L220.5,1387.8 L222.5,1388.0 L224.5,1388.2 L226.5,1388.4 L228.5,1388.7 L230.5,1388.9 L232.5,1389.1 L234.5,1389.3 L236.5,1389.5 L238.5,1389.8 L240.5,1390.0 L242.5,1390.2 L244.5,1390.5 L246.5,1390.7 L248.5,1390.9 L250.5,1391.2 L252.5,1391.4 L254.4,1391.7 L256.4,1391.9 L258.4,1392.2 L260.4,1392.5 L262.4,1392.7 L264.4,1393.0 L266.4,1393.3 L268.4,1393.5 L270.4,1393.8 L272.4,1394.1 L274.4,1394.4 L276.3,1394.7 L278.3,1395.0 L280.3,1395.3 L282.3,1395.6 L284.3,1395.9 L286.3,1396.2 L288.2,1396.6 L290.2,1396.9 L292.2,1397.2 L294.2,1397.5 L296.2,1397.9 L298.2,1398.2 L300.1,1398.5 L302.1,1398.9 L304.1,1399.2 L306.1,1399.5 L308.1,1399.9 L310.0,1400.2 L312.0,1400.5 L314.0,1400.9 L316.0,1401.2 L318.0,1401.5 L320.0,1401.9 L321.9,1402.2 L323.9,1402.5 L325.9,1402.9 L327.9,1403.2 L329.9,1403.5 L331.8,1403.8 L333.8,1404.1 L335.8,1404.4 L337.8,1404.7 L339.8,1405.1 L341.8,1405.4 L343.8,1405.6 L345.8,1405.9 L347.7,1406.2 L349.7,1406.5 L351.7,1406.8 L353.7,1407.1 L355.7,1407.3 L357.7,1407.6 L359.7,1407.8 L361.7,1408.1 L363.7,1408.3 L365.7,1408.6 L367.7,1408.8 L369.7,1409.0 L371.7,1409.3 L373.7,1409.5 L375.6,1409.7 L377.6,1409.9 L379.6,1410.1 L381.6,1410.3 L383.6,1410.5 L385.6,1410.7 L387.6,1410.9 L389.6,1411.0 L391.7,1411.2 L393.7,1411.3 L395.7,1411.5 L397.7,1411.6 L399.7,1411.8 L401.7,1411.9 L681.9,1412.1 L683.9,1411.7 L685.8,1411.3 L687.8,1410.9 L689.7,1410.5 L691.7,1410.0 L693.6,1409.5 L695.5,1409.0 L697.5,1408.4 L699.4,1407.9 L701.3,1407.3 L703.2,1406.7 L705.1,1406.1 L707.0,1405.5 L708.9,1404.8 L710.8,1404.2 L712.7,1403.5 L714.6,1402.9 L716.5,1402.2 L718.4,1401.5 L720.2,1400.9 L722.1,1400.2 L724.0,1399.5 L725.9,1398.8 L727.8,1398.1 L729.6,1397.4 L731.5,1396.7 L733.4,1396.0 L735.3,1395.3 L737.1,1394.6 L739.0,1393.9 L740.9,1393.2 L742.8,1392.5 L744.6,1391.8 L746.5,1391.1 L748.4,1390.4 L750.3,1389.8 L752.2,1389.1 L754.0,1388.4 L755.9,1387.7 L757.8,1387.1 L759.7,1386.4 L761.6,1385.8 L763.5,1385.1 L765.4,1384.5 L767.3,1383.9 L769.2,1383.3 L771.1,1382.7 L773.0,1382.1 L774.9,1381.5 L776.9,1381.0 L778.8,1380.4 L780.7,1379.9 L782.7,1379.4 L784.6,1378.9 L786.5,1378.4 L788.5,1377.9 L790.4,1377.5 L792.4,1377.1 L794.3,1376.6 L796.3,1376.3 L798.3,1375.9 L800.2,1375.6 L802.2,1375.2 L804.2,1374.9 L806.2,1374.7 L808.2,1374.4 L810.2,1374.2 L812.2,1374.0 L814.1,1373.9 L816.1,1373.8 L818.1,1373.7 L820.1,1373.6 L822.1,1373.6 L824.1,1373.6 L826.1,1373.6 L828.1,1373.7 L830.1,1373.8 L832.1,1373.9 L834.1,1374.0 L836.1,1374.2 L838.1,1374.4 L840.1,1374.6 L842.1,1374.9 L844.1,1375.1 L846.1,1375.4 L848.0,1375.7 L850.0,1376.1 L852.0,1376.4 L854.0,1376.8 L855.9,1377.1 L857.9,1377.5 L859.8,1377.9 L861.8,1378.3 L863.8,1378.8 L865.7,1379.2 L867.7,1379.6 L869.6,1380.1 L871.6,1380.6 L873.5,1381.0 L875.4,1381.5 L877.4,1382.0 L879.3,1382.5 L881.3,1383.0 L883.2,1383.5 L885.1,1384.0 L887.1,1384.5 L889.0,1385.0 L890.9,1385.5 L892.9,1386.0 L894.8,1386.5 L896.8,1387.0 L898.7,1387.5 L900.6,1388.0 L902.6,1388.5 L904.5,1389.0 L906.5,1389.5 L908.4,1390.0 L910.3,1390.4 L912.3,1390.9 L914.2,1391.3 L916.2,1391.8 L918.1,1392.2 L920.1,1392.6 L922.1,1393.0 L924.0,1393.4 L926.0,1393.7 L928.0,1394.1 L930.0,1394.4 L931.9,1394.6 L933.9,1394.9 L935.9,1395.1 L937.9,1395.2 L939.9,1395.3 L941.9,1395.4 L943.9,1395.4 L945.9,1395.3 L947.9,1395.2 L949.9,1395.0 L951.9,1394.8 L953.9,1394.5 L955.8,1394.1 L957.8,1393.6 L959.7,1393.1 L961.6,1392.5 L963.5,1391.8 L965.4,1391.1 L967.2,1390.3 L969.0,1389.5 L970.8,1388.6 L972.6,1387.6 L974.3,1386.7 L976.0,1385.6 L977.7,1384.6 L979.4,1383.5 L981.1,1382.3 L982.7,1381.2 L984.3,1380.0 L985.9,1378.8 L987.4,1377.5 L989.0,1376.2 L990.5,1374.9 L992.0,1373.6 L993.5,1372.3 L994.9,1370.9 L996.4,1369.5 L997.8,1368.1 L999.2,1366.7 L1000.6,1365.2 L1002.0,1363.8 L1003.3,1362.3 L1004.6,1360.8 L1006.0,1359.3 L1007.3,1357.8 L1008.5,1356.2 L1009.8,1354.7 L1011.1,1353.1 L1012.3,1351.6 L1013.5,1350.0 L1014.8,1348.4 L1016.0,1346.8 L1017.2,1345.2 L1018.3,1343.6 L1019.5,1342.0 L1020.7,1340.3 L1021.8,1338.7 L1023.0,1337.1 L1024.1,1335.4 L1025.3,1333.8 L1026.4,1332.1 L1027.6,1330.5 L1028.7,1328.8 L1029.8,1327.2 L1030.9,1325.5 L1032.1,1323.9 L1033.2,1322.2 L1034.3,1320.6 L1035.4,1318.9 L1036.6,1317.3 L1037.7,1315.6 L1038.8,1314.0 L1040.0,1312.3 L1041.1,1310.7 L1042.3,1309.1 L1043.4,1307.4 L1044.6,1305.8 L1045.8,1304.2 L1047.0,1302.6 L1048.1,1301.0 L1049.3,1299.4 L1050.6,1297.8 L1051.8,1296.2 L1053.0,1294.6 L1054.3,1293.0 L1055.5,1291.5 L1056.8,1290.0 L1058.1,1288.4 L1059.4,1286.9 L1060.7,1285.4 L1062.1,1283.9 L1063.4,1282.4 L1064.8,1281.0 L1066.2,1279.5 L1067.5,1278.1 L1068.9,1276.6 L1070.3,1275.2 L1071.8,1273.8 L1073.2,1272.4 L1074.6,1271.0 L1076.1,1269.6 L1077.5,1268.2 L1078.9,1266.8 L1080.4,1265.5 L1081.9,1264.1 L1083.3,1262.7 L1084.8,1261.4 L1086.3,1260.0 L1087.8,1258.7 L1089.2,1257.3 L1090.7,1256.0 L1092.2,1254.6 L1093.7,1253.3 L1095.2,1251.9 L1096.6,1250.6 L1098.1,1249.3 L1099.6,1247.9 L1101.1,1246.6 L1102.5,1245.2 L1104.0,1243.9 L1105.5,1242.5 L1106.9,1241.1 L1108.4,1239.8 L1109.9,1238.4 L1111.3,1237.0 L1112.7,1235.6 L1114.2,1234.2 L1115.6,1232.8 L1117.0,1231.4 L1118.4,1230.0 L1119.8,1228.6 L1121.2,1227.1 L1122.6,1225.7 L1124.0,1224.2 L1125.3,1222.7 L1126.7,1221.3 L1128.0,1219.8 L1129.4,1218.3 L1130.7,1216.8 L1132.0,1215.3 L1133.3,1213.7 L1134.6,1212.2 L1135.9,1210.7 L1137.1,1209.1 L1138.4,1207.6 L1139.7,1206.0 L1140.9,1204.5 L1142.2,1202.9 L1143.4,1201.4 L1144.7,1199.8 L1145.9,1198.2 L1147.1,1196.6 L1148.3,1195.0 L1149.5,1193.4 L1150.7,1191.8 L1151.9,1190.2 L1153.1,1188.6 L1154.3,1187.0 L1155.5,1185.4 L1156.7,1183.8 L1157.9,1182.2 L1159.1,1180.6 L1160.2,1178.9 L1161.4,1177.3 L1162.6,1175.7 L1163.7,1174.1 L1164.9,1172.4 L1166.0,1170.8 L1167.2,1169.2 L1168.4,1167.5 L1169.5,1165.9 L1170.7,1164.3 L1171.8,1162.6 L1173.0,1161.0 L1174.1,1159.4 L1175.3,1157.7 L1176.4,1156.1 L1177.6,1154.5 L1178.7,1152.8 L1179.9,1151.2 L1181.1,1149.6 L1182.2,1147.9 L1183.4,1146.3 L1184.5,1144.7 L1185.7,1143.0 L1186.9,1141.4 L1188.1,1139.8 L1189.2,1138.2 L1190.4,1136.6 L1191.6,1135.0 L1192.8,1133.3 L1194.0,1131.7 L1195.2,1130.1 L1196.4,1128.5 L1197.6,1126.9 L1198.8,1125.4 L1200.1,1123.8 L1201.3,1122.2 L1202.6,1120.7 L1203.9,1119.2 L1205.2,1117.6 L1206.5,1116.1 L1207.9,1114.7 L1209.2,1113.2 L1210.7,1111.8 L1212.1,1110.4 L1213.6,1109.1 L1215.1,1107.7 L1216.6,1106.4 L1218.2,1105.2 L1219.8,1104.0 L1221.4,1102.8 L1223.1,1101.7 L1224.8,1100.7 L1226.5,1099.7 L1228.3,1098.7 L1230.1,1097.9 L1231.9,1097.1 L1233.7,1096.3 L1235.6,1095.7 L1237.6,1095.1 L1239.5,1094.7 L1241.5,1094.3 L1243.5,1094.1 L1245.5,1094.0 L1247.5,1094.1 L1249.5,1094.4 L1251.4,1094.8 L1253.3,1095.4 L1255.2,1096.1 L1256.9,1097.1 L1258.7,1098.1 L1260.3,1099.2 L1261.9,1100.5 L1263.4,1101.8 L1264.9,1103.1 L1266.3,1104.6 L1267.6,1106.0 L1268.9,1107.6 L1270.2,1109.1 L1271.4,1110.7 L1272.5,1112.3 L1273.6,1114.0 L1274.7,1115.7 L1275.8,1117.4 L1276.8,1119.1 L1277.8,1120.9 L1278.7,1122.6 L1279.6,1124.4 L1280.5,1126.2 L1281.4,1128.0 L1282.2,1129.8 L1283.1,1131.6 L1283.9,1133.5 L1284.6,1135.3 L1285.4,1137.2 L1286.2,1139.0 L1286.9,1140.9 L1287.7,1142.7 L1288.5,1144.6 L1289.2,1146.4 L1290.0,1148.3 L1290.7,1150.1 L1291.5,1152.0 L1292.3,1153.8 L1293.0,1155.7 L1293.8,1157.5 L1294.6,1159.3 L1295.4,1161.2 L1296.2,1163.0 L1297.0,1164.8 L1297.8,1166.7 L1298.7,1168.5 L1299.5,1170.3 L1300.3,1172.1 L1301.1,1174.0 L1302.0,1175.8 L1302.8,1177.6 L1303.6,1179.4 L1304.5,1181.2 L1305.3,1183.1 L1306.1,1184.9 L1307.0,1186.7 L1307.8,1188.5 L1308.7,1190.3 L1309.5,1192.1 L1310.4,1193.9 L1311.2,1195.8 L1312.0,1197.6 L1312.9,1199.4 L1313.7,1201.2 L1314.6,1203.0 L1315.4,1204.8 L1316.2,1206.7 L1317.1,1208.5 L1317.9,1210.3 L1318.7,1212.1 L1319.5,1214.0 L1320.3,1215.8 L1321.2,1217.6 L1322.0,1219.4 L1322.8,1221.3 L1323.6,1223.1 L1324.4,1224.9 L1325.1,1226.8 L1325.9,1228.6 L1326.7,1230.5 L1327.5,1232.3 L1328.2,1234.2 L1329.0,1236.0 L1329.8,1237.9 L1330.5,1239.7 L1331.3,1241.6 L1332.1,1243.4 L1332.8,1245.3 L1333.6,1247.1 L1334.4,1248.9 L1335.1,1250.8 L1335.9,1252.6 L1336.7,1254.5 L1337.5,1256.3 L1338.3,1258.2 L1339.0,1260.0 L1339.8,1261.8 L1340.6,1263.7 L1341.4,1265.5 L1342.2,1267.3 L1343.1,1269.2 L1343.9,1271.0 L1344.7,1272.8 L1345.6,1274.6 L1346.4,1276.4 L1347.3,1278.3 L1348.1,1280.1 L1349.0,1281.9 L1349.9,1283.6 L1350.8,1285.4 L1351.7,1287.2 L1352.6,1289.0 L1353.6,1290.8 L1354.5,1292.5 L1355.5,1294.3 L1356.5,1296.0 L1357.5,1297.7 L1358.5,1299.5 L1359.5,1301.2 L1360.6,1302.9 L1361.6,1304.6 L1362.7,1306.3 L1363.8,1308.0 L1364.9,1309.6 L1366.0,1311.3 L1367.2,1312.9 L1368.3,1314.5 L1369.5,1316.2 L1370.7,1317.8 L1371.9,1319.3 L1373.2,1320.9 L1374.4,1322.5 L1375.7,1324.0 L1377.1,1325.5 L1378.4,1326.9 L1379.9,1328.4 L1381.3,1329.7 L1382.8,1331.0 L1384.4,1332.3 L1386.1,1333.4 L1387.8,1334.4 L1389.5,1335.4 L1391.4,1336.2 L1393.3,1336.8 L1395.2,1337.4 L1397.1,1337.8 L1399.1,1338.1 L1401.1,1338.3 L1403.1,1338.4 L1405.1,1338.4 L1407.1,1338.4 L1409.1,1338.2 L1411.1,1338.0 L1413.1,1337.7 L1415.0,1337.4 L1417.0,1337.0 L1418.9,1336.5 L1420.9,1336.0 L1422.8,1335.4 L1424.7,1334.8 L1426.6,1334.1 L1428.4,1333.4 L1430.3,1332.7 L1432.2,1331.9 L1434.0,1331.1 L1435.8,1330.3 L1437.6,1329.4 L1439.4,1328.6 L1441.2,1327.7 L1443.0,1326.8 L1444.8,1325.8 L1446.6,1324.9 L1448.3,1324.0 L1450.1,1323.1 L1451.9,1322.1 L1453.6,1321.2 L1455.4,1320.2 L1457.1,1319.3 L1458.9,1318.3 L1460.7,1317.3 L1462.4,1316.4 L1464.2,1315.4 L1465.9,1314.5 L1467.7,1313.5 L1469.4,1312.5 L1471.2,1311.6 L1472.9,1310.6 L1474.7,1309.6 L1476.4,1308.7 L1478.2,1307.7 L1479.9,1306.7 L1481.7,1305.7 L1483.4,1304.8 L1485.2,1303.8 L1486.9,1302.8 L1488.7,1301.9 L1490.5,1300.9 L1492.2,1300.0 L1494.0,1299.0 L1495.7,1298.1 L1497.5,1297.1 L1499.3,1296.2 L1501.0,1295.2 L1502.8,1294.3 L1504.6,1293.4 L1506.3,1292.5 L1508.1,1291.5 L1509.9,1290.6 L1511.7,1289.7 L1513.5,1288.8 L1515.3,1287.9 L1517.1,1287.0 L1518.9,1286.2 L1520.7,1285.3 L1522.5,1284.4 L1524.3,1283.6 L1526.1,1282.7 L1527.9,1281.9 L1529.7,1281.1 L1531.5,1280.2 L1533.4,1279.4 L1535.2,1278.6 L1537.0,1277.8 L1538.8,1276.9 L1540.7,1276.1 L1542.5,1275.3 L1544.3,1274.4 L1546.1,1273.5 L1547.9,1272.6 L1549.6,1271.7 L1551.4,1270.7 L1553.1,1269.7 L1554.8,1268.6 L1556.5,1267.6 L1558.2,1266.5 L1559.8,1265.3 L1561.5,1264.2 L1563.1,1263.0 L1564.7,1261.8 L1566.3,1260.6 L1567.9,1259.4 L1569.4,1258.1 L1571.0,1256.9 L1572.5,1255.6 L1574.1,1254.3 L1575.6,1253.0 L1577.1,1251.7 L1578.6,1250.4 L1580.2,1249.1 L1581.7,1247.8 L1583.2,1246.5 L1584.7,1245.2 L1586.2,1243.9 L1587.7,1242.6 L1589.2,1241.3 L1590.7,1239.9 L1592.2,1238.6 L1593.7,1237.3 L1595.2,1236.0 L1596.7,1234.6 L1598.2,1233.3 L1599.7,1232.0 L1601.2,1230.6 L1602.6,1229.3 L1604.1,1227.9 L1605.6,1226.5 L1607.1,1225.2 L1608.5,1223.8 L1610.0,1222.4 L1611.4,1221.1 L1612.9,1219.7 L1614.3,1218.3 L1615.8,1216.9 L1617.2,1215.5 L1618.6,1214.1 L1620.1,1212.7 L1621.5,1211.3 L1622.9,1209.9 L1624.3,1208.5 L1625.7,1207.1 L1627.1,1205.6 L1628.5,1204.2 L1629.9,1202.7 L1631.3,1201.3 L1632.6,1199.8 L1634.0,1198.4 L1635.4,1196.9 L1636.7,1195.4 L1638.0,1193.9 L1639.4,1192.4 L1640.7,1190.9 L1642.0,1189.4 L1643.3,1187.9 L1644.6,1186.4 L1645.9,1184.9 L1647.2,1183.3 L1648.5,1181.8 L1649.7,1180.2 L1651.0,1178.7 L1652.2,1177.1 L1653.4,1175.5 L1654.6,1173.9 L1655.8,1172.3 L1657.0,1170.7 L1658.2,1169.1 L1659.3,1167.4 L1660.5,1165.8 L1661.6,1164.1 L1662.7,1162.5 L1663.8,1160.8 L1664.9,1159.1 L1666.0,1157.4 L1667.0,1155.7 L1668.0,1154.0 L1669.0,1152.3 L1670.0,1150.5 L1671.0,1148.8 L1672.0,1147.0 L1672.9,1145.3 L1673.8,1143.5 L1674.7,1141.7 L1675.6,1139.9 L1676.4,1138.1 L1677.3,1136.3 L1678.1,1134.4 L1678.9,1132.6 L1679.6,1130.7 L1680.4,1128.9 L1681.1,1127.0 L1681.8,1125.1 L1682.4,1123.2 L1683.1,1121.3 L1683.7,1119.4 L1684.3,1117.5 L1684.9,1115.6 L1685.4,1113.7 L1686.0,1111.8 L1686.5,1109.8 L1687.0,1107.9 L1687.6,1106.0 L1688.0,1104.0 L1688.5,1102.1 L1689.0,1100.2 L1689.5,1098.2 L1689.9,1096.3 L1690.4,1094.3 L1690.8,1092.4 L1691.3,1090.4 L1691.7,1088.5 L1692.2,1086.5 L1692.6,1084.6 L1693.0,1082.6 L1693.5,1080.7 L1693.9,1078.7 L1694.4,1076.8 L1694.8,1074.8 L1695.3,1072.9 L1695.7,1070.9 L1696.2,1069.0 L1696.7,1067.0 L1697.2,1065.1 L1697.6,1063.1 L1698.1,1061.2 L1698.6,1059.2 L1699.1,1057.3 L1699.6,1055.4 L1700.1,1053.4 L1700.6,1051.5 L1701.1,1049.6 L1701.6,1047.6 L1702.1,1045.7 L1702.6,1043.7 L1703.1,1041.8 L1703.6,1039.9 L1704.1,1037.9 L1704.6,1036.0 L1705.1,1034.1 L1705.6,1032.1 L1706.1,1030.2 L1706.6,1028.3 L1707.1,1026.3 L1707.6,1024.4 L1708.1,1022.4 L1708.6,1020.5 L1709.0,1018.5 L1709.5,1016.6 L1710.0,1014.7 L1710.4,1012.7 L1710.9,1010.8 L1711.3,1008.8 L1711.8,1006.9 L1712.2,1004.9 L1712.7,1003.0 L1713.1,1001.0 L1713.5,999.0 L1714.0,997.1 L1714.4,995.1 L1714.8,993.2 L1715.2,991.2 L1715.6,989.3 L1716.1,987.3 L1716.5,985.3 L1716.9,983.4 L1717.3,981.4 L1717.7,979.5 L1718.1,977.5 L1718.5,975.5 L1718.9,973.6 L1719.2,971.6 L1719.6,969.7 L1720.0,967.7 L1720.4,965.7 L1720.8,963.8 L1721.2,961.8 L1721.6,959.8 L1721.9,957.9 L1722.3,955.9 L1722.7,953.9 L1723.1,952.0 L1723.4,950.0 L1723.8,948.0 L1724.2,946.1 L1724.6,944.1 L1724.9,942.1 L1725.3,940.2 L1725.7,938.2 L1726.0,936.2 L1726.4,934.3 L1726.8,932.3 L1727.1,930.3 L1727.5,928.4 L1727.9,926.4 L1728.2,924.4 L1728.6,922.5 L1729.0,920.5 L1729.3,918.5 L1729.7,916.6 L1730.1,914.6 L1730.4,912.6 L1730.8,910.7 L1731.1,908.7 L1731.5,906.7 L1731.9,904.8 L1732.2,902.8 L1732.6,900.8 L1732.9,898.9 L1733.3,896.9 L1733.7,894.9 L1734.0,893.0 L1734.4,891.0 L1734.7,889.0 L1735.1,887.0 L1735.4,885.1 L1735.8,883.1 L1736.2,881.1 L1736.5,879.2 L1736.9,877.2 L1737.2,875.2 L1737.6,873.3 L1737.9,871.3 L1738.3,869.3 L1738.6,867.4 L1739.0,865.4 L1739.3,863.4 L1739.7,861.4 L1740.0,859.5 L1740.4,857.5 L1740.7,855.5 L1741.1,853.6 L1741.4,851.6 L1741.8,849.6 L1742.1,847.6 L1742.4,845.7 L1742.8,843.7 L1743.1,841.7 L1743.5,839.8 L1743.8,837.8 L1744.2,835.8 L1744.5,833.8 L1744.9,831.9 L1745.2,829.9 L1745.5,827.9 L1745.9,826.0 L1746.2,824.0 L1746.6,822.0 L1746.9,820.0 L1747.2,818.1 L1747.6,816.1 L1747.9,814.1 L1748.2,812.2 L1748.6,810.2 L1748.9,808.2 L1749.3,806.2 L1749.6,804.3 L1749.9,802.3 L1750.3,800.3 L1750.6,798.4 L1750.9,796.4 L1751.3,794.4 L1751.6,792.4 L1751.9,790.5 L1752.3,788.5 L1752.6,786.5 L1752.9,784.5 L1753.3,782.6 L1753.6,780.6 L1753.9,778.6 L1754.3,776.6 L1754.6,774.7 L1754.9,772.7 L1755.3,770.7 L1755.6,768.8 L1755.9,766.8 L1756.2,764.8 L1756.6,762.8 L1756.9,760.9 L1757.2,758.9 L1757.5,756.9 L1757.9,754.9 L1758.2,753.0 L1758.5,751.0 L1758.9,749.0 L1759.2,747.0 L1759.5,745.1 L1759.8,743.1 L1760.2,741.1 L1760.5,739.1 L1760.8,737.2 L1761.1,735.2 L1761.4,733.2 L1761.8,731.2 L1762.1,729.3 L1762.4,727.3 L1762.7,725.3 L1763.1,723.3 L1763.4,721.4 L1763.7,719.4 L1764.0,717.4 L1764.3,715.4 L1764.7,713.5 L1765.0,711.5 L1765.3,709.5 L1765.6,707.5 L1765.9,705.6 L1766.2,703.6 L1766.6,701.6 L1766.9,699.6 L1767.2,697.7 L1767.5,695.7 L1767.8,693.7 L1768.1,691.7 L1768.5,689.8 L1768.8,687.8 L1769.1,685.8 L1769.4,683.8 L1769.7,681.9 L1770.0,679.9 L1770.4,677.9 L1770.7,675.9 L1771.0,673.9 L1771.3,672.0 L1771.6,670.0 L1771.9,668.0 L1772.2,666.0 L1772.5,664.1 L1772.9,662.1 L1773.2,660.1 L1773.5,658.1 L1773.8,656.2 L1774.1,654.2 L1774.4,652.2 L1774.7,650.2 L1775.0,648.3 L1775.3,646.3 L1775.7,644.3 L1776.0,642.3 L1776.3,640.3 L1776.6,638.4 L1776.9,636.4 L1777.2,634.4 L1777.5,632.4 L1777.8,630.5 L1778.1,628.5 L1778.4,626.5 L1778.7,624.5 L1779.0,622.5 L1779.4,620.6 L1779.7,618.6 L1780.0,616.6 L1780.3,614.6 L1780.6,612.7 L1780.9,610.7 L1781.2,608.7 L1781.5,606.7 L1781.8,604.8 L1782.1,602.8 L1782.4,600.8 L1782.7,598.8 L1783.0,596.8 L1783.3,594.9 L1783.6,592.9 L1783.9,590.9 L1784.2,588.9 L1784.5,587.0 L1784.9,585.0 L1785.2,583.0 L1785.5,581.0 L1785.8,579.0 L1786.1,577.1 L1786.4,575.1 L1786.7,573.1 L1787.0,571.1 L1787.3,569.2 L1787.6,567.2 L1787.9,565.2 L1788.2,563.2 L1788.5,561.2 L1788.8,559.3 L1789.1,557.3 L1789.4,555.3 L1789.7,553.3 L1790.0,551.4 L1790.3,549.4 L1790.6,547.4 L1790.9,545.4 L1791.2,543.4 L1791.5,541.5 L1791.8,539.5 L1792.1,537.5 L1792.4,535.5 L1792.7,533.5 L1793.0,531.6 L1793.3,529.6 L1793.6,527.6 L1793.9,525.6 L1794.2,523.7 L1794.5,521.7 L1794.8,519.7 L1795.1,517.7 L1795.4,515.7 L1795.7,513.8 L1796.0,511.8 L1796.3,509.8 L1796.6,507.8 L1796.9,505.8 L1797.2,503.9 L1797.5,501.9 L1797.8,499.9 L1798.1,497.9 L1798.4,496.0 L1798.7,494.0 L1799.0,492.0 L1799.3,490.0 L1799.6,488.0 L1799.9,486.1 L1800.2,484.1 L1800.5,482.1 L1800.8,480.1 L1801.1,478.1 L1801.4,476.2 L1801.7,474.2 L1802.0,472.2 L1802.3,470.2 L1802.6,468.3 L1802.9,466.3 L1803.2,464.3 L1803.5,462.3 L1803.8,460.3 L1804.1,458.4 L1804.4,456.4 L1804.7,454.4 L1805.0,452.4 L1805.3,450.4 L1805.5,448.5 L1805.8,446.5 L1806.1,444.5 L1806.4,442.5 L1806.7,440.6 L1807.0,438.6 L1807.3,436.6 L1807.6,434.6 L1807.9,432.6 L1808.2,430.7 L1808.5,428.7 L1808.8,426.7 L1809.1,424.7 L1809.4,422.7 L1809.7,420.8 L1810.0,418.8 L1810.3,416.8 L1810.6,414.8 L1810.9,412.9 L1811.2,410.9 L1811.5,408.9 L1811.8,406.9 L1812.1,404.9 L1812.4,403.0 L1812.7,401.0 L1813.0,399.0" fill="none" stroke="#e5235a" stroke-width="6" stroke-linecap="round" stroke-linejoin="round"/>
<text x="1577.79" y="424.8" font-size="47" font-weight="700" fill="#e5235a" textLength="185.94" lengthAdjust="spacingAndGlyphs">+2900%</text>
<g font-size="29" fill="#7b7b7b"><text x="115.51" y="1486.4" textLength="88.74" lengthAdjust="spacingAndGlyphs">14 Apr</text><text x="355.02" y="1486.4" textLength="88.18" lengthAdjust="spacingAndGlyphs">16 Apr</text><text x="637.63" y="1486.4" textLength="87.66" lengthAdjust="spacingAndGlyphs">18 Apr</text><text x="910.09" y="1486.4" textLength="94.14" lengthAdjust="spacingAndGlyphs">20 Apr</text><text x="1203.45" y="1486.4" textLength="90.97" lengthAdjust="spacingAndGlyphs">22 Apr</text><text x="1482.62" y="1486.4" textLength="92.6" lengthAdjust="spacingAndGlyphs">24 Apr</text><text x="1720.13" y="1486.4" textLength="91.78" lengthAdjust="spacingAndGlyphs">26 Apr</text></g>

<g clip-path="url(#fc)">
  <rect x="1570" y="60" width="160" height="160" fill="#fff"/>
  <rect x="1570" y="60" width="160" height="30.1" fill="#2a56b0"/>
  <rect x="1570" y="94.5" width="160" height="88.9" fill="#e2332b"/>
  <rect x="1570" y="187.8" width="160" height="30" fill="#2a56b0"/>
  <circle cx="1626.6" cy="139.5" r="32.6" fill="#fff"/>
  <path d="M1626.60,110.50 L1633.65,130.79 L1655.13,131.23 L1638.01,144.21 L1644.23,164.77 L1626.60,152.50 L1608.97,164.77 L1615.19,144.21 L1598.07,131.23 L1619.55,130.79Z" fill="#e2332b"/>
</g>
<circle cx="1742.2" cy="140.6" r="77.5" fill="#fff"/>


<g clip-path="url(#pc)">
<g transform="translate(1670,68) scale(0.08889)">
  <rect x="0" y="0" width="1643" height="1643" fill="#3a3e37"/>
  <!-- darker right/back -->
  <path d="M1000,0 H1643 V1643 H1000 Z" fill="#262524"/>
  <!-- hair mass -->
  <path d="M250,330 C330,170 520,50 820,35 C1150,30 1420,200 1520,480 C1600,720 1580,1100 1490,1350 C1430,1500 1320,1600 1180,1643 L1040,1643 L1130,1450 L1160,1200 L1300,1080 L1370,900 L1370,760 C1250,735 1120,715 1000,665 C900,610 830,540 760,440 C700,350 650,270 585,205 C500,215 420,250 380,300 C345,360 335,440 330,520 L325,640 L280,640 L270,450 Z" fill="#181717"/>
  <!-- face/neck -->
  <path d="M330,520 C335,440 345,360 380,300 C420,250 500,215 585,205 C650,270 700,350 760,440 C830,540 900,610 1000,665 C1120,715 1250,735 1370,760 C1380,860 1360,980 1300,1060 C1240,1095 1190,1100 1160,1120 C1130,1220 1110,1330 1100,1420 C1060,1480 980,1540 900,1600 L860,1643 L670,1643 C640,1560 600,1470 560,1400 C490,1340 420,1290 370,1230 C320,1130 295,1030 283,930 C275,820 290,700 300,640 L325,640 Z" fill="#e2cfc9"/>
  <clipPath id="facec"><path d="M330,520 C335,440 345,360 380,300 C420,250 500,215 585,205 C650,270 700,350 760,440 C830,540 900,610 1000,665 C1120,715 1250,735 1370,760 C1380,860 1360,980 1300,1060 C1240,1095 1190,1100 1160,1120 C1130,1220 1110,1330 1100,1420 C1060,1480 980,1540 900,1600 L860,1643 L670,1643 C640,1560 600,1470 560,1400 C490,1340 420,1290 370,1230 C320,1130 295,1030 283,930 C275,820 290,700 300,640 L325,640 Z"/></clipPath>
  <g clip-path="url(#facec)">
  <ellipse cx="600" cy="760" rx="340" ry="450" fill="#ebdeda" opacity="0.9"/>
  <ellipse cx="980" cy="900" rx="220" ry="280" fill="#e7d8d3" opacity="0.7"/>
  </g>
  <!-- neck shade -->
  <path d="M560,1400 C700,1420 900,1380 1100,1300 L1100,1420 C1060,1480 980,1540 900,1600 L860,1643 L670,1643 C640,1560 600,1470 560,1400 Z" fill="#d7c0b8" opacity="0.8"/>
  <!-- ear -->
  <path d="M1190,760 C1300,745 1370,800 1360,920 C1350,1020 1290,1080 1180,1095 C1160,990 1160,860 1190,760 Z" fill="#d6bcb2"/>
  <path d="M1230,820 C1290,820 1320,880 1300,960" stroke="#b89b90" stroke-width="22" fill="none"/>
  <!-- brows -->
  <path d="M320,560 C370,535 430,530 480,545" stroke="#5e4a45" stroke-width="24" fill="none" stroke-linecap="round"/>
  <path d="M600,560 C680,535 770,545 830,585" stroke="#5e4a45" stroke-width="24" fill="none" stroke-linecap="round"/>
  <!-- eyes -->
  <path d="M335,685 C365,645 430,640 472,675 C440,712 375,718 335,685 Z" fill="#32231f"/>
  <path d="M648,705 C685,660 770,655 832,695 C785,735 700,742 648,705 Z" fill="#32231f"/>
  <!-- nose -->
  <path d="M420,890 C460,860 540,860 590,905" stroke="#a98a82" stroke-width="24" fill="none" stroke-linecap="round"/>
  <!-- lips -->
  <path d="M400,1075 C440,1045 520,1045 620,1070 C560,1115 470,1125 420,1115 Z" fill="#c98f8b"/>
  <path d="M400,1075 C470,1068 550,1068 620,1070" stroke="#a86e6b" stroke-width="10" fill="none"/>
  <!-- clothes -->
  <path d="M880,1643 C950,1520 1040,1450 1120,1420 L1320,1500 L1320,1643 Z" fill="#1c1b1b"/>
  <path d="M380,1250 C460,1340 540,1420 600,1550 L640,1643 L300,1643 L300,1250 Z" fill="#2a2a28"/>
</g>
</g>


<g transform="translate(1468,1536) scale(0.04016)" fill="none" stroke="#262626" stroke-width="56" stroke-linejoin="round" stroke-linecap="round">
  <!-- outer head -->
  <path d="M650,320 C800,270 1000,270 1150,320 M420,630 C300,640 150,740 150,880 C150,1150 500,1480 900,1480 C1300,1480 1650,1150 1650,880 C1650,740 1500,640 1380,630" />
  <!-- ears outer -->
  <path d="M400,600 C320,450 320,180 440,150 C530,130 620,230 650,330 C660,400 640,450 600,470" fill="#262626"/>
  <path d="M1400,600 C1480,450 1480,180 1360,150 C1270,130 1180,230 1150,330 C1140,400 1160,450 1200,470" fill="#262626"/>
  <path d="M415,570 C380,440 385,290 440,265 C505,250 545,380 550,470 Z" fill="#fff" stroke="none"/>
  <path d="M1385,570 C1420,440 1415,290 1360,265 C1295,250 1255,380 1250,470 Z" fill="#fff" stroke="none"/>
  <!-- eye patches -->
  <path d="M560,440 C700,420 820,520 830,640 C840,760 760,850 640,930 C580,1000 570,1150 560,1250 C470,1150 360,1000 370,860 C380,760 420,700 400,620 C420,500 480,450 560,440 Z" fill="#262626"/>
  <path d="M1240,440 C1100,420 980,520 970,640 C960,760 1040,850 1160,930 C1220,1000 1230,1150 1240,1250 C1330,1150 1440,1000 1430,860 C1420,760 1380,700 1400,620 C1380,500 1320,450 1240,440 Z" fill="#262626"/>
  <!-- eye highlights -->
  <path d="M560,640 C570,560 640,520 720,540 C760,560 770,600 760,640 C720,590 640,580 600,640 Z" fill="#fff" stroke="none"/>
  <path d="M1240,640 C1230,560 1160,520 1080,540 C1040,560 1030,600 1040,640 C1080,590 1160,580 1200,640 Z" fill="#fff" stroke="none"/>
  <!-- muzzle -->
  <path d="M820,560 C850,700 760,800 760,880 C760,960 830,990 900,990 C970,990 1040,960 1040,880 C1040,800 950,700 980,560" fill="#fff"/>
  <!-- cheek inner lines -->
  <!-- mouth -->
  <path d="M680,1130 C760,1160 1040,1160 1140,1130 C1100,1250 1000,1340 900,1340 C800,1340 720,1250 680,1130 Z" fill="#262626" stroke-width="20"/>
  <path d="M820,1190 L910,1170 L1000,1190 L980,1320 L840,1320 Z" fill="#fff" stroke="none"/>
  <path d="M910,1150 L910,1330" stroke-width="22"/>
</g>

<g font-size="34" font-weight="700">
<text x="1546.33" y="1580.7" fill="#e0404a" textLength="20.13" lengthAdjust="spacingAndGlyphs">X</text>
<text x="1567.99" y="1580.7" fill="#2a2a2a" textLength="20.64" lengthAdjust="spacingAndGlyphs">H</text>
<text x="1589.46" y="1580.7" fill="#2a2a2a" textLength="24.33" lengthAdjust="spacingAndGlyphs">A</text>
<text x="1614.16" y="1580.7" fill="#2a2a2a" textLength="30.38" lengthAdjust="spacingAndGlyphs">M</text>
<text x="1644.89" y="1580.7" fill="#2a2a2a" textLength="18.70" lengthAdjust="spacingAndGlyphs">S</text>
<text x="1664.34" y="1580.7" fill="#2a2a2a" textLength="19.61" lengthAdjust="spacingAndGlyphs">T</text>
<text x="1685.56" y="1580.7" fill="#2a2a2a" textLength="17.36" lengthAdjust="spacingAndGlyphs">E</text>
<text x="1705.08" y="1580.7" fill="#2a2a2a" textLength="20.71" lengthAdjust="spacingAndGlyphs">R</text>
<text x="1727.54" y="1580.7" fill="#5157d6" textLength="22.26" lengthAdjust="spacingAndGlyphs">D</text>
<text x="1749.86" y="1580.7" fill="#5157d6" textLength="24.33" lengthAdjust="spacingAndGlyphs">A</text>
<text x="1772.21" y="1580.7" fill="#5157d6" textLength="21.16" lengthAdjust="spacingAndGlyphs">T</text>
<text x="1791.54" y="1580.7" fill="#5157d6" textLength="21.96" lengthAdjust="spacingAndGlyphs">A</text>
</g>
</svg>
</body></html>
